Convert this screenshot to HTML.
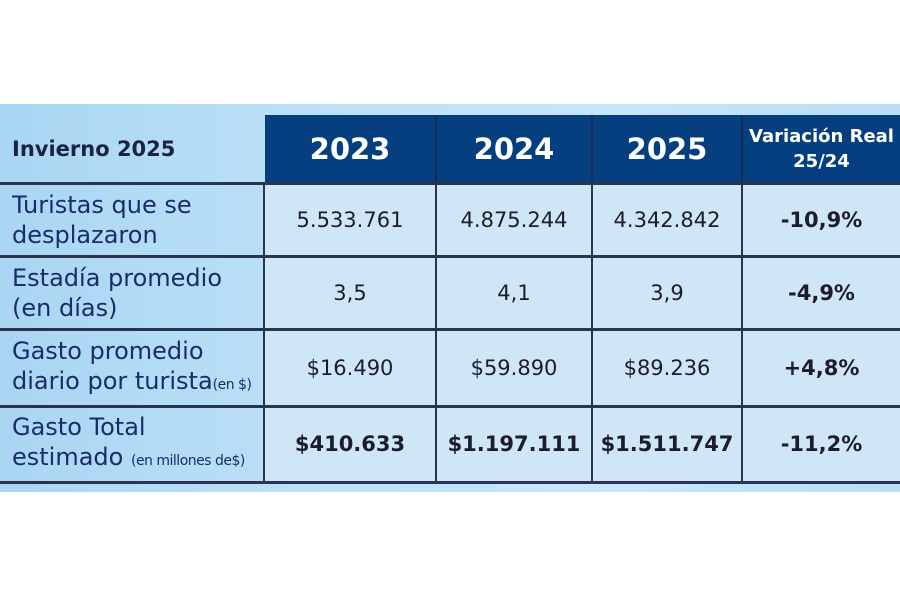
<!DOCTYPE html>
<html><head><style>
body{margin:0;width:900px;height:600px;background:#fff;position:relative;overflow:hidden;font-family:"DejaVu Sans","Liberation Sans",sans-serif;}
#bg{position:absolute;left:0;top:104px;width:900px;height:388px;background:linear-gradient(90deg,#a9d6f3 0%,#bfe2f8 40%,#c6e6fa 70%,#b9def6 100%);}
.c{position:absolute;box-sizing:border-box;display:flex;align-items:center;justify-content:center;text-align:center;color:#1c1c2a;font-size:21px;}
.h{background:#063f80;color:#fff;font-weight:bold;font-size:29px;border-right:2px solid #1a2c55;}
.cell{background:#cfe6f7;border-right:2px solid #2a3350;}
.l{justify-content:flex-start;text-align:left;color:#1a2c6a;font-size:24px;line-height:30px;padding-left:12px;white-space:nowrap;}
.hl{position:absolute;left:0;width:900px;height:3px;background:#2a3350;}
.b{font-weight:bold;}
small{font-size:14px;letter-spacing:-0.5px;}
</style></head><body>
<div id="bg"></div>
<div class="c l b" style="left:0;top:115px;width:265px;height:68px;font-size:21px;color:#1a2440;">Invierno 2025</div>
<div class="c h" style="left:265px;top:115px;width:172px;height:68px;">2023</div>
<div class="c h" style="left:437px;top:115px;width:156px;height:68px;">2024</div>
<div class="c h" style="left:593px;top:115px;width:150px;height:68px;">2025</div>
<div class="c h" style="left:743px;top:115px;width:157px;height:68px;font-size:18px;line-height:25px;border-right:none;">Variación Real<br>25/24</div>

<div class="c l" style="left:0;top:183px;width:265px;height:73px;"><div>Turistas que se<br>desplazaron</div></div>
<div class="c cell" style="left:265px;top:183px;width:172px;height:73px;">5.533.761</div>
<div class="c cell" style="left:437px;top:183px;width:156px;height:73px;">4.875.244</div>
<div class="c cell" style="left:593px;top:183px;width:150px;height:73px;">4.342.842</div>
<div class="c cell b" style="left:743px;top:183px;width:157px;height:73px;border:none;">-10,9%</div>

<div class="c l" style="left:0;top:256px;width:265px;height:73px;"><div>Estadía promedio<br>(en días)</div></div>
<div class="c cell" style="left:265px;top:256px;width:172px;height:73px;">3,5</div>
<div class="c cell" style="left:437px;top:256px;width:156px;height:73px;">4,1</div>
<div class="c cell" style="left:593px;top:256px;width:150px;height:73px;">3,9</div>
<div class="c cell b" style="left:743px;top:256px;width:157px;height:73px;border:none;">-4,9%</div>

<div class="c l" style="left:0;top:329px;width:265px;height:77px;"><div>Gasto promedio<br>diario por turista<small>(en $)</small></div></div>
<div class="c cell" style="left:265px;top:329px;width:172px;height:77px;">$16.490</div>
<div class="c cell" style="left:437px;top:329px;width:156px;height:77px;">$59.890</div>
<div class="c cell" style="left:593px;top:329px;width:150px;height:77px;">$89.236</div>
<div class="c cell b" style="left:743px;top:329px;width:157px;height:77px;border:none;">+4,8%</div>

<div class="c l" style="left:0;top:406px;width:265px;height:76px;"><div>Gasto Total<br>estimado <small>(en millones de$)</small></div></div>
<div class="c cell b" style="left:265px;top:406px;width:172px;height:76px;">$410.633</div>
<div class="c cell b" style="left:437px;top:406px;width:156px;height:76px;">$1.197.111</div>
<div class="c cell b" style="left:593px;top:406px;width:150px;height:76px;">$1.511.747</div>
<div class="c cell b" style="left:743px;top:406px;width:157px;height:76px;border:none;">-11,2%</div>

<div style="position:absolute;left:263px;top:183px;width:2px;height:299px;background:#2a3350;"></div>
<div class="hl" style="top:182px;"></div>
<div class="hl" style="top:255px;"></div>
<div class="hl" style="top:328px;"></div>
<div class="hl" style="top:405px;"></div>
<div class="hl" style="top:481px;"></div>
</body></html>
